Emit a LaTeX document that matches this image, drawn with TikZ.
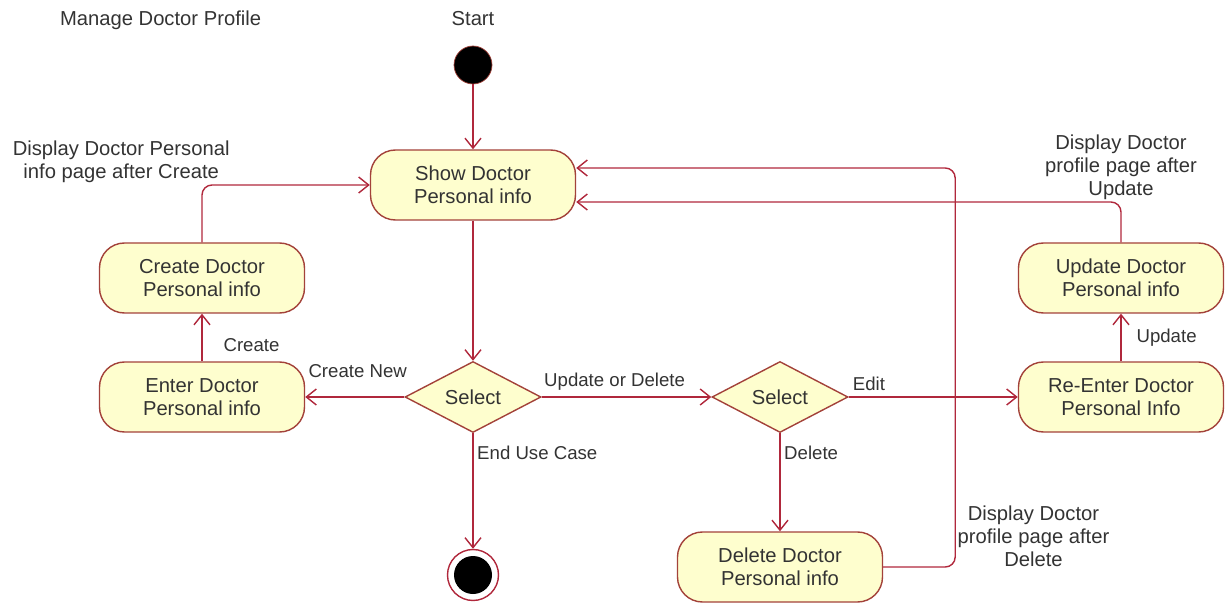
\documentclass[tikz,border=0pt]{standalone}
\usepackage{fontspec}
\setmainfont{Liberation Sans}
\usepackage{tikz}
\usetikzlibrary{arrows.meta,shapes.geometric,positioning}

\definecolor{line red}{HTML}{B0283C}
\definecolor{box red}{HTML}{A3423A}
\definecolor{box fill}{HTML}{FEFECE}
\definecolor{text grey}{HTML}{333333}

\begin{document}
\begin{tikzpicture}[-,>={Straight Barb[length=2mm,width=3.2mm]},node distance=2.0cm,
  line width=0.8pt,text=text grey,
  action node/.style={rectangle,rounded corners=0.5cm,fill=box fill,draw=box red,
    minimum width=4.1cm,minimum height=1.4cm,align=center,font=\fontsize{11.5}{13}\selectfont},
  decision node/.style={diamond,fill=box fill,draw=box red,minimum width=2.72cm,
    minimum height=1.4cm,inner sep=0pt,font=\fontsize{11.5}{13}\selectfont},
  start node/.style={circle,fill=black,draw=box red,line width=0.4pt,minimum size=0.76cm,inner sep=0pt},
  end node/.style={circle,fill=white,draw=line red,minimum size=1.02cm,inner sep=0pt,
    path picture={\fill[black] (path picture bounding box.center) circle (0.38cm);}},
  flow/.style={->,draw=line red},
  long label/.style={align=center,inner sep=1pt,font=\fontsize{11.5}{13}\selectfont}]

  \useasboundingbox (0,0) rectangle (24.5,-12.1);

  \node[anchor=west,font=\fontsize{11.5}{13}\selectfont] (10) at (1.07,-0.4) {Manage Doctor Profile};

  \node[start node] (0) at (9.46,-1.3) {};
  \node[font=\fontsize{11.5}{13}\selectfont] (11) [node distance=0.92cm, above of=0] {Start};
  \node[action node] (1) [node distance=2.4cm, below of=0] {Show Doctor\\Personal info};
  \node[decision node] (4) [node distance=4.24cm, below of=1] {Select};
  \node[action node] (3) [node distance=5.42cm, left of=4] {Enter Doctor\\Personal info};
  \node[action node] (2) [node distance=2.38cm, above of=3] {Create Doctor\\Personal info};
  \node[decision node] (5) [node distance=6.14cm, right of=4] {Select};
  \node[action node] (7) [node distance=6.82cm, right of=5] {Re-Enter Doctor\\Personal Info};
  \node[action node] (6) [node distance=2.38cm, above of=7] {Update Doctor\\Personal info};
  \node[action node] (9) [node distance=3.4cm, below of=5] {Delete Doctor\\Personal info};
  \node[end node] (8) [node distance=3.56cm, below of=4] {};

  \path[flow,every node/.style={font=\fontsize{10.6}{12}\selectfont}]
    (0) edge (1)
    (1) edge (4)
    (4) edge node[pos=0.47, yshift=0.52cm] {Create New} (3)
    (3) edge node[pos=0.34, right=0.3cm] {Create} (2)
    (4) edge node[pos=0.43, above] {Update or Delete} (5)
    (4) edge node[pos=0.17, right, inner sep=2pt] {End Use Case} (8)
    (5) edge node[pos=0.12, above] {Edit} (7)
    (5) edge node[pos=0.2, right, inner sep=2pt] {Delete} (9)
    (7) edge node[pos=0.49, right=0.18cm] {Update} (6);

  % back to the info page
  \draw[flow,rounded corners=0.2cm] (2.north) |- node[pos=0.5, long label, anchor=south east, xshift=0.6cm]
    {Display Doctor Personal\\info page after Create} (1.west);
  \draw[flow,rounded corners=0.2cm] (6.north) |- node[pos=0.5, long label, above]
    {Display Doctor\\profile page after\\Update} ([yshift=-0.34cm]1.east);
  \draw[flow,rounded corners=0.2cm] (9.east) -- ++(1.44,0)
    node[long label, anchor=south west, yshift=-0.04cm] {Display Doctor\\profile page after\\Delete}
    |- ([yshift=0.34cm]1.east);
\end{tikzpicture}
\end{document}
